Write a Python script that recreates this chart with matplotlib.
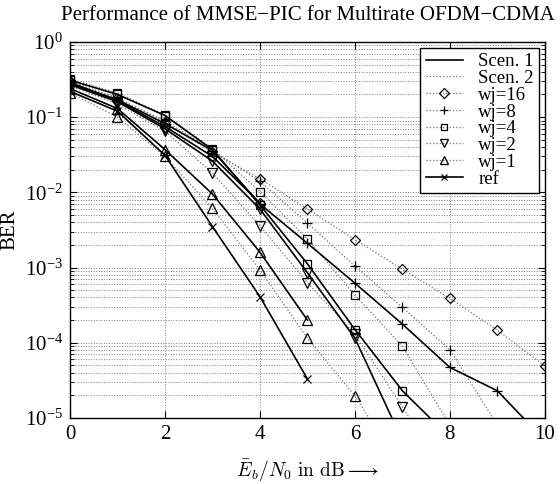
import matplotlib
matplotlib.use("Agg")
import matplotlib.pyplot as plt
from matplotlib.lines import Line2D
from matplotlib.ticker import FixedLocator, LogLocator, FuncFormatter, NullFormatter
import numpy as np

plt.rcParams['font.family'] = ['Liberation Serif', 'DejaVu Serif']
plt.rcParams['mathtext.fontset'] = 'cm'

# Eb/N0 in dB
snr = np.arange(0, 11)

# Scenario 1 (solid lines)
s1_wj16 = [0.29, 0.165, 0.075, 0.030, 0.0072]
s1_wj8 = [0.28, 0.17, 0.082, 0.036, 0.0070, 2.1e-3, 6.2e-4, 1.77e-4, 4.7e-5, 2.3e-5, 5e-6]
s1_wj4 = [0.31, 0.20, 0.105, 0.037, 0.0068, 1.12e-3, 1.5e-4, 2.3e-5, 5.5e-6]
s1_wj2 = [0.27, 0.16, 0.070, 0.026, 0.0060, 8.5e-4, 1.15e-4, 5e-6]
s1_wj1 = [0.24, 0.13, 0.037, 0.0095, 0.0016, 2.0e-4]
ref = [0.22, 0.12, 0.031, 0.0035, 4.1e-4, 3.3e-5]

# Scenario 2 (dotted lines)
s2_wj16 = [0.30, 0.18, 0.085, 0.034, 0.0152, 6.0e-3, 2.35e-3, 9.5e-4, 3.9e-4, 1.47e-4, 4.9e-5]
s2_wj8 = [0.29, 0.175, 0.09, 0.036, 0.014, 3.9e-3, 1.05e-3, 2.95e-4, 8.1e-5, 8e-6]
s2_wj4 = [0.32, 0.21, 0.107, 0.038, 0.0102, 2.4e-3, 4.3e-4, 9.0e-5, 8e-6]
s2_wj2 = [0.26, 0.15, 0.065, 0.018, 0.0036, 6.3e-4, 1.3e-4, 1.4e-5, 1.5e-6]
s2_wj1 = [0.21, 0.10, 0.030, 0.0061, 9.3e-4, 1.15e-4, 1.97e-5, 2e-6]

fig = plt.figure(figsize=(5.6, 4.84), dpi=100)
ax = fig.add_axes([0.125, 0.1364, 0.848, 0.777])

dot = dict(color='0.45', linestyle=':', linewidth=0.9)
sol = dict(color='black', linestyle='-', linewidth=1.2)
mk = dict(markerfacecolor='none', markeredgecolor='black', markersize=7, markeredgewidth=0.9)

curves = [
    (s2_wj16, 'D', dot, 5.5), (s2_wj8, '+', dot, 7), (s2_wj4, 's', dot, 6),
    (s2_wj2, 'v', dot, 7), (s2_wj1, '^', dot, 7),
    (s1_wj16, 'D', sol, 5.5), (s1_wj8, '+', sol, 7), (s1_wj4, 's', sol, 6),
    (s1_wj2, 'v', sol, 7), (s1_wj1, '^', sol, 7), (ref, 'x', sol, 6),
]
for vals, m, style, ms in curves:
    kw = dict(mk)
    kw['markersize'] = ms
    ax.semilogy(snr[:len(vals)], vals, marker=m, **style, **kw)

ax.set_xlim(0, 10)
ax.set_ylim(1e-5, 1)
ax.xaxis.set_major_locator(FixedLocator([0, 2, 4, 6, 8, 10]))
ax.yaxis.set_major_locator(LogLocator(base=10, numticks=10))
ax.yaxis.set_minor_locator(LogLocator(base=10, subs=np.arange(2, 10), numticks=20))
ax.yaxis.set_minor_formatter(NullFormatter())
ax.yaxis.set_major_formatter(FuncFormatter(lambda v, p: r'$\mathregular{10^{%d}}$' % round(np.log10(v))))
ax.grid(True, which='major', linestyle=':', color='0.5', linewidth=0.7)
ax.grid(True, which='minor', axis='y', linestyle=':', color='0.5', linewidth=0.7)
ax.tick_params(which='both', direction='in', top=True, right=True, labelsize=15, pad=5)
ax.tick_params(which='major', length=5)
ax.tick_params(which='minor', length=3)
for s in ax.spines.values():
    s.set_linewidth(1.0)

ax.set_title('Performance of MMSE\u2212PIC for Multirate OFDM\u2212CDMA', fontsize=15, pad=16)
ax.set_ylabel('BER', fontsize=15)
ax.set_xlabel(r'$\bar{E}_b/N_0\ \mathrm{in\ dB} \longrightarrow$', fontsize=14, labelpad=10)

handles = [
    Line2D([], [], **sol),
    Line2D([], [], **dot),
    Line2D([], [], marker='D', **dot, **dict(mk, markersize=5)),
    Line2D([], [], marker='+', **dot, **dict(mk, markersize=6)),
    Line2D([], [], marker='s', **dot, **dict(mk, markersize=5)),
    Line2D([], [], marker='v', **dot, **dict(mk, markersize=6)),
    Line2D([], [], marker='^', **dot, **dict(mk, markersize=6)),
    Line2D([], [], marker='x', **sol, **dict(mk, markersize=5)),
]
labels = ['Scen. 1', 'Scen. 2', 'wj=16', 'wj=8', 'wj=4', 'wj=2', 'wj=1', 'ref']
leg = ax.legend(handles, labels, loc='upper right', fontsize=13.5, frameon=True, fancybox=False,
                edgecolor='black', framealpha=1, borderaxespad=0.3, handlelength=2.0,
                labelspacing=-0.02, borderpad=0.3, handletextpad=0.8)
leg.get_frame().set_linewidth(1.0)

fig.savefig('out.png', dpi=100)
